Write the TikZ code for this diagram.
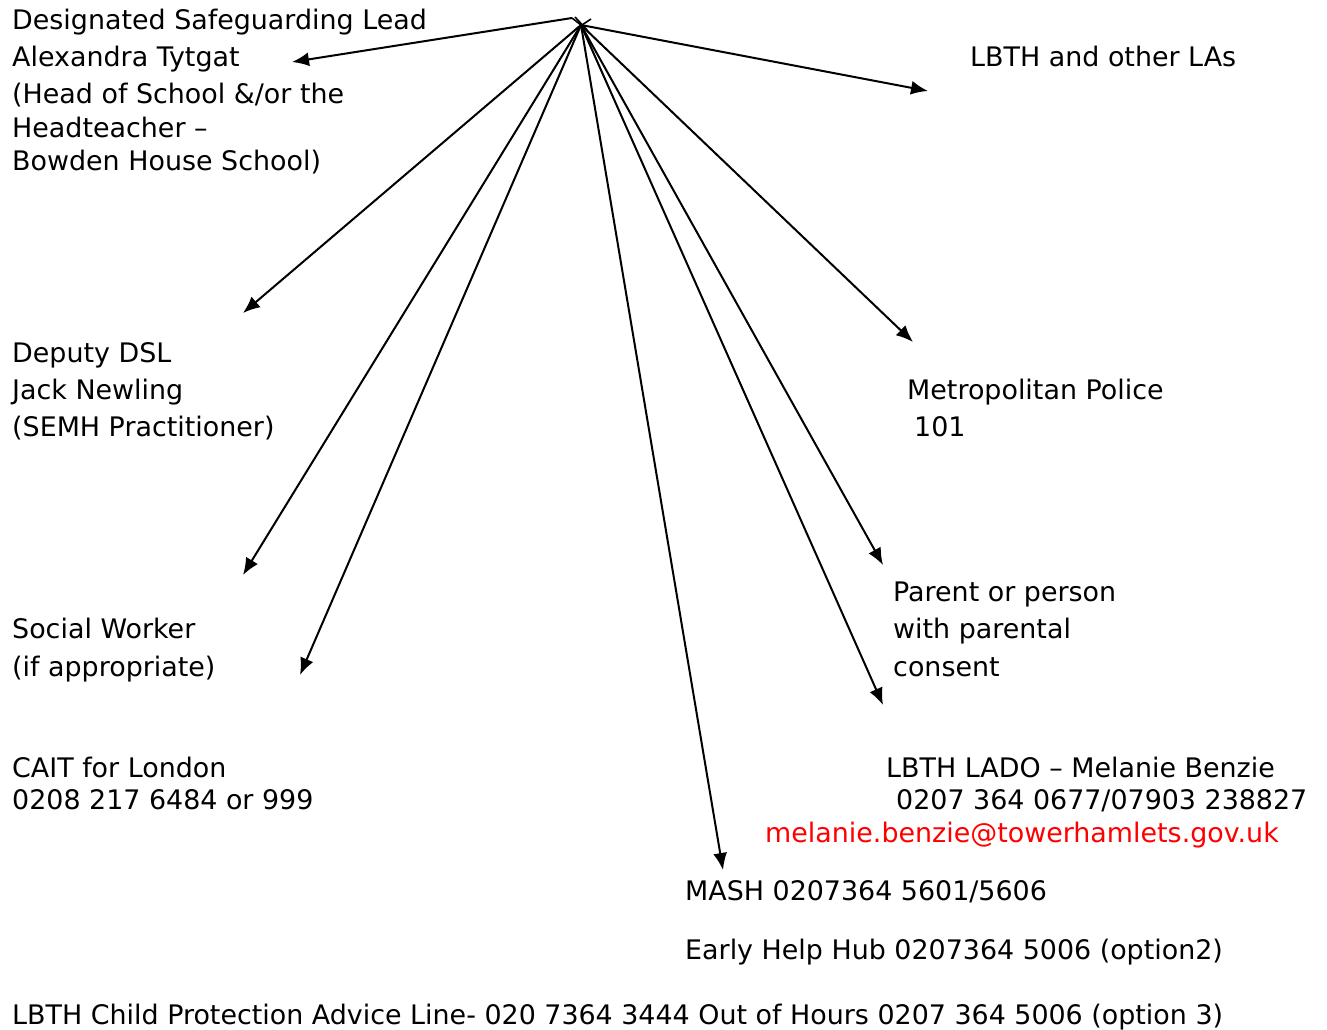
\documentclass[tikz,border=0pt]{standalone}
\usepackage{fontspec}
\setmainfont{DejaVu Sans}
\usetikzlibrary{arrows.meta}
\definecolor{mailred}{RGB}{255,0,0}
\begin{document}
\begin{tikzpicture}[x=1pt,y=-1pt,
  lbl/.style={anchor=base west,inner sep=0pt,font=\fontsize{26.9}{35}\selectfont},
  conn/.style={line width=2pt,-{Latex[length=17pt,width=14pt]}},
  tick/.style={line width=1.6pt}
]
\useasboundingbox[fill=white] (0,0) rectangle (1327,1030);
% texts
\node[lbl] (dsla) at (12,30) {Designated Safeguarding Lead};
\node[lbl] (dslb) at (12,67) {Alexandra Tytgat};
\node[lbl] (dslc) at (12,104) {(Head of School \&/or the};
\node[lbl] (dsld) at (12,137) {Headteacher –};
\node[lbl] (dsle) at (12,170) {Bowden House School)};
\node[lbl] (las) at (970,67) {LBTH and other LAs};
\node[lbl] (depa) at (12,362) {Deputy DSL};
\node[lbl] (depb) at (12,399) {Jack Newling};
\node[lbl] (depc) at (12,436) {(SEMH Practitioner)};
\node[lbl] (pola) at (907,399) {Metropolitan Police};
\node[lbl] (polb) at (914,436) {101};
\node[lbl] (swa) at (12,638) {Social Worker};
\node[lbl] (swb) at (12,676) {(if appropriate)};
\node[lbl] (para) at (893,601) {Parent or person};
\node[lbl] (parb) at (893,638) {with parental};
\node[lbl] (parc) at (893,676) {consent};
\node[lbl] (caita) at (12,777) {CAIT for London};
\node[lbl] (caitb) at (12,809) {0208 217 6484 or 999};
\node[lbl] (ladoa) at (886,777) {LBTH LADO – Melanie Benzie};
\node[lbl] (ladob) at (896,809) {0207 364 0677/07903 238827};
\node[lbl,text=mailred] (ladoc) at (765,842) {melanie.benzie@towerhamlets.gov.uk};
\node[lbl] (mash) at (685,900) {MASH 0207364 5601/5606};
\node[lbl] (ehh) at (685,959) {Early Help Hub 0207364 5006 (option2)};
\node[lbl] (cpal) at (12,1024) {LBTH Child Protection Advice Line- 020 7364 3444 Out of Hours 0207 364 5006 (option 3)};
% hub and arrow tips
\coordinate (hub) at (581,25);
\coordinate (hubl) at (572,18);
\coordinate (tdsl) at (292,62);
\coordinate (tlas) at (928,91);
\coordinate (tdep) at (243,313);
\coordinate (tpol) at (913,342);
\coordinate (tsw1) at (243,575);
\coordinate (tsw2) at (300,675);
\coordinate (tpar) at (883,565);
\coordinate (tlado) at (883,705);
\coordinate (tmash) at (723,870);
\coordinate (xa) at (575,17);
\coordinate (xb) at (588,31);
\coordinate (xc) at (591,19);
\coordinate (xd) at (576,29);
\draw[tick] (xa) -- (xb);
\draw[tick] (xc) -- (xd);
\draw[tick] (hubl) -- (hub);
% connectors
\draw[conn] (hubl) -- (tdsl);
\draw[conn] (hub) -- (tlas);
\draw[conn] (hub) -- (tdep);
\draw[conn] (hub) -- (tpol);
\draw[conn] (hub) -- (tsw1);
\draw[conn] (hub) -- (tsw2);
\draw[conn] (hub) -- (tpar);
\draw[conn] (hub) -- (tlado);
\draw[conn] (hub) -- (tmash);
\end{tikzpicture}
\end{document}
